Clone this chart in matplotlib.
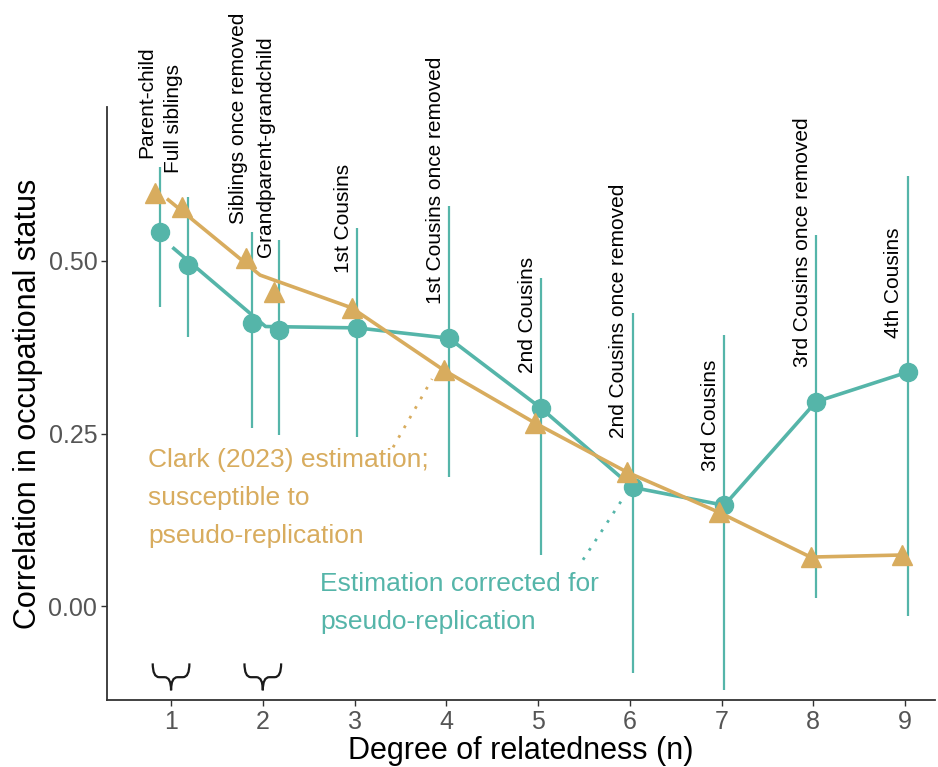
import numpy as np
import pandas as pd
import matplotlib
matplotlib.use("Agg")
import matplotlib.pyplot as plt
from matplotlib.path import Path
from matplotlib.patches import PathPatch

plt.rcParams['font.family'] = ['Liberation Sans', 'DejaVu Sans']

# relationship types, grouped by degree of relatedness
relation = ["Parent-child", "Full siblings", "Siblings once removed",
            "Grandparent-grandchild", "1st Cousins", "1st Cousins once removed",
            "2nd Cousins", "2nd Cousins once removed", "3rd Cousins",
            "3rd Cousins once removed", "4th Cousins"]
degree = [1, 1, 2, 2, 3, 4, 5, 6, 7, 8, 9]
pair_shift = [-0.15, 0.15, -0.15, 0.15, 0, 0, 0, 0, 0, 0, 0]

# Clark (2023) correlations
clark = [0.599, 0.578, 0.504, 0.455, 0.432, 0.342, 0.265, 0.194, 0.136, 0.071, 0.074]
# estimates corrected for pseudo-replication, with intervals
corrected = [0.542, 0.494, 0.410, 0.400, 0.403, 0.388, 0.287, 0.172, 0.146, 0.296, 0.339]
ci_low = [0.433, 0.390, 0.258, 0.248, 0.245, 0.187, 0.074, -0.097, -0.122, 0.012, -0.014]
ci_high = [0.636, 0.593, 0.542, 0.530, 0.548, 0.580, 0.475, 0.425, 0.393, 0.538, 0.623]

gold = "#D8AC5E"
teal = "#55B5A9"
dodge = 0.03

df = pd.DataFrame({"relation": relation, "degree": degree, "shift": pair_shift,
                   "clark": clark, "corrected": corrected,
                   "lo": ci_low, "hi": ci_high})
df["x"] = df["degree"] + df["shift"]
by_deg = df.groupby("degree")[["clark", "corrected"]].mean().reset_index()

fig = plt.figure(figsize=(9.38, 7.67), dpi=100)
ax = fig.add_axes([0.1141, 0.0874, 0.8827, 0.7731])

# corrected estimates
ax.vlines(df["x"] + dodge, df["lo"], df["hi"], color=teal, lw=1.6, zorder=1)
ax.plot(by_deg["degree"] + dodge, by_deg["corrected"], color=teal, lw=2.6, zorder=2)
ax.plot(df["x"] + dodge, df["corrected"], "o", color=teal, ms=13, zorder=3)

# Clark estimates
ax.plot(by_deg["degree"] - dodge, by_deg["clark"], color=gold, lw=2.6, zorder=4)
ax.plot(df["x"] - dodge, df["clark"], "^", color=gold, ms=15, zorder=5)

# relationship names above each point
top = np.maximum(df["clark"], df["corrected"]) + 0.05
for xi, yi, name in zip(df["x"] + dodge - 0.15, top, df["relation"]):
    ax.text(xi, yi, name, rotation=90, ha="center", va="bottom", fontsize=15)

# annotations
ax.text(0.75, 0.229, "Clark (2023) estimation;\nsusceptible to\npseudo-replication",
        color=gold, fontsize=19, ha="left", va="top", linespacing=1.73)
ax.plot([3.42, 3.845], [0.230, 0.329], ls=(0, (1, 3)), color=gold, lw=2)
ax.text(2.624, 0.049, "Estimation corrected for\npseudo-replication",
        color=teal, fontsize=19, ha="left", va="top", linespacing=1.73)
ax.plot([5.49, 5.95], [0.067, 0.161], ls=(0, (1, 3)), color=teal, lw=2)

# braces grouping the two relations of degree 1 and 2
def brace(xc, w=0.2, r=0.07, ytop=-0.083, ymid=-0.103, ytip=-0.122):
    verts = [(xc - w, ytop), (xc - w, ymid), (xc - w + r, ymid),
             (xc - r, ymid), (xc, ymid), (xc, ytip),
             (xc, ymid), (xc + r, ymid),
             (xc + w - r, ymid), (xc + w, ymid), (xc + w, ytop)]
    codes = [Path.MOVETO, Path.CURVE3, Path.CURVE3,
             Path.LINETO, Path.CURVE3, Path.CURVE3,
             Path.CURVE3, Path.CURVE3,
             Path.LINETO, Path.CURVE3, Path.CURVE3]
    ax.add_patch(PathPatch(Path(verts, codes), fill=False, lw=1.6, color="#1a1a1a"))

for d in (1, 2):
    brace(d)

ax.set_xlim(0.302, 9.327)
ax.set_ylim(-0.136, 0.723)
ax.set_xticks(range(1, 10))
ax.set_yticks([0, 0.25, 0.5])
ax.set_yticklabels(["0.00", "0.25", "0.50"])
ax.tick_params(length=4, width=1, color="#333333", labelcolor="#555555",
               labelsize=18, pad=3)
for s in ["top", "right"]:
    ax.spines[s].set_visible(False)
for s in ["left", "bottom"]:
    ax.spines[s].set_linewidth(1.3)
    ax.spines[s].set_color("#333333")

ax.set_xlabel("Degree of relatedness (n)", fontsize=22, labelpad=2)
ax.set_ylabel("Correlation in occupational status", fontsize=22, labelpad=4)

fig.savefig("out.png", dpi=100)
